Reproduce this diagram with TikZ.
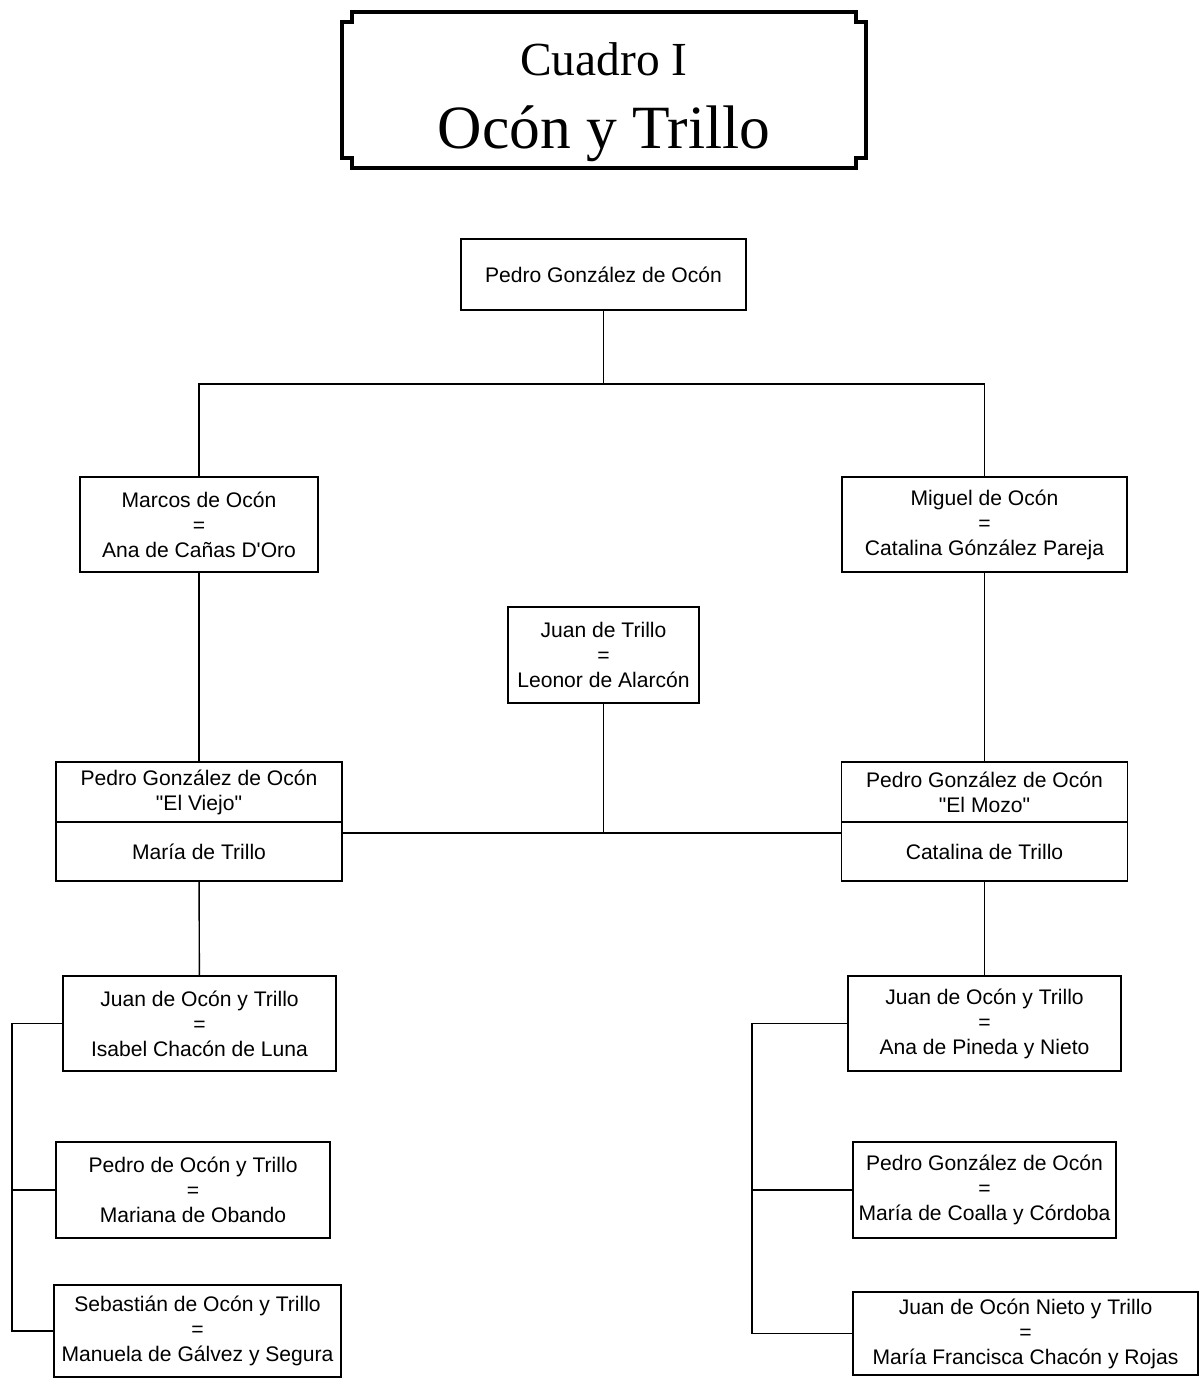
\documentclass[tikz,border=0pt]{standalone}
\usepackage{fontspec}
\setmainfont{Liberation Serif}
\setsansfont{Liberation Sans}[Ligatures=TeXOff]
\usetikzlibrary{positioning,calc}

\begin{document}
\begin{tikzpicture}[
  x=0.02cm, y=-0.02cm,
  box/.style={draw, line width=0.8pt, minimum width=#1, minimum height=1.9cm, inner sep=0pt, outer sep=0pt,
    align=center, font=\sffamily\fontsize{12}{14.2}\selectfont},
  box/.default=5.7cm,
  link/.style={line width=0.8pt},
  frame/.style={line width=2.2pt, line join=miter},
]
\useasboundingbox (0,0) rectangle (1200,1380);

% Title
\node[minimum width=10.48cm, minimum height=3.12cm, inner sep=0pt] (title) at (604,90) {};
\draw[frame] ($(title.north west)+(10,0)$) -- ($(title.north east)+(-10,0)$) -- ++(0,10) -- ($(title.north east)+(0,10)$)
  -- ($(title.south east)+(0,-10)$) -- ++(-10,0) -- ($(title.south east)+(-10,0)$)
  -- ($(title.south west)+(10,0)$) -- ++(0,-10) -- ($(title.south west)+(0,-10)$)
  -- ($(title.north west)+(0,10)$) -- ++(10,0) -- cycle;
\node[anchor=base, font=\fontsize{27}{30}\selectfont] (cuadro) at (604,75) {Cuadro I};
\node[anchor=base, font=\fontsize{35}{40}\selectfont] (apellidos) at (604,148) {Ocón y Trillo};

% Generations top-to-bottom
\node[box, minimum height=1.42cm] (pedro) at (603.5,274.5) {Pedro González de Ocón};
\node[box=4.76cm] (marcos) at (199,524.5) {Marcos de Ocón\\=\\Ana de Cañas D'Oro};
\node[box] (miguel) at (984.5,524.5) {Miguel de Ocón\\=\\Catalina Gónzález Pareja};
\node[box=3.82cm, minimum height=1.92cm] (trillo) at (603.5,655) {Juan de Trillo\\=\\Leonor de Alarcón};

% Double boxes
\node[box=5.72cm, minimum height=1.2cm] (viejo) at (199,792) {Pedro González de Ocón\\"El Viejo"};
\node[box=5.72cm, minimum height=1.18cm, below=0pt of viejo] (mariaT) {María de Trillo};
\node[box=5.72cm, minimum height=1.2cm] (mozo) at (984.5,792) {Pedro González de Ocón\\"El Mozo"};
\node[box=5.72cm, minimum height=1.18cm, below=0pt of mozo] (catalinaT) {Catalina de Trillo};

% Children, left
\node[box=5.46cm] (juanL) at (199.5,1023.5) {Juan de Ocón y Trillo\\=\\Isabel Chacón de Luna};
\node[box=5.48cm, minimum height=1.92cm] (pedroL) at (193,1190) {Pedro de Ocón y Trillo\\=\\Mariana de Obando};
\node[box=5.74cm, minimum height=1.84cm] (sebasL) at (197.5,1331) {Sebastián de Ocón y Trillo\\=\\Manuela de Gálvez y Segura};

% Children, right
\node[box=5.46cm] (juanR) at (984.5,1023.5) {Juan de Ocón y Trillo\\=\\Ana de Pineda y Nieto};
\node[box=5.26cm, minimum height=1.92cm] (pedroR) at (984.5,1190) {Pedro González de Ocón\\=\\María de Coalla y Córdoba};
\node[box=6.9cm, minimum height=1.66cm] (nietoR) at (1025.5,1333.5) {Juan de Ocón Nieto y Trillo\\=\\María Francisca Chacón y Rojas};

% Junctions
\coordinate (fork) at (603.5,384);
\coordinate (wed) at (603.5,833);
\coordinate (railL) at (12,0);
\coordinate (railR) at (752,0);

% Lines
\draw[link] (pedro) -- (fork);
\draw[link] (marcos.north) |- (fork) -| (miguel.north);
\draw[link] (trillo) -- (wed);
\draw[link] (mariaT.east |- wed) -- (catalinaT.west |- wed);
\foreach \a/\b in {marcos/viejo, miguel/mozo, mariaT/juanL, catalinaT/juanR}
  \draw[link] (\a) -- (\b);

% Brothers
\draw[link] (juanL.west) -- (juanL.west -| railL) |- (sebasL.west);
\draw[link] (pedroL.west) -- (pedroL.west -| railL);
\draw[link] (juanR.west) -- (juanR.west -| railR) |- (nietoR.west);
\draw[link] (pedroR.west) -- (pedroR.west -| railR);

\end{tikzpicture}
\end{document}
